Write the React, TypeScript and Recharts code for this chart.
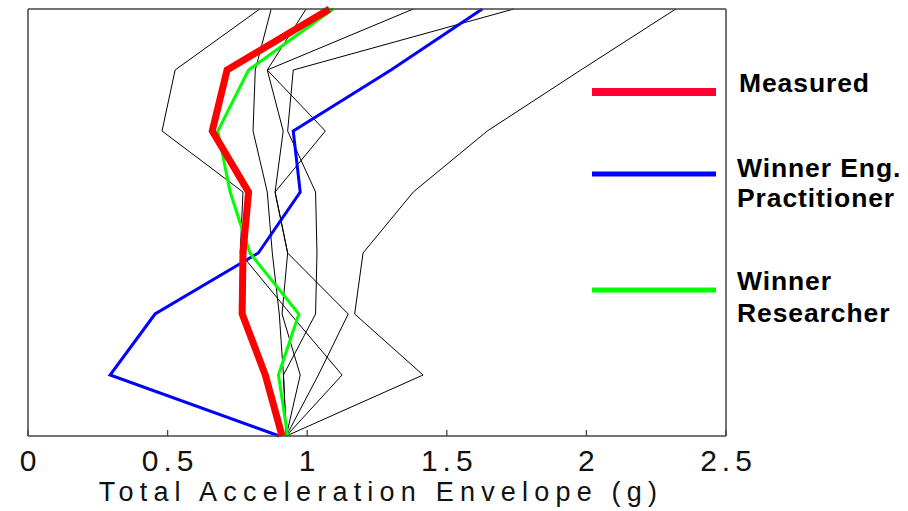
import { LineChart, Line, XAxis, YAxis } from "recharts";

// floor levels, bottom (0) to top (7)
const levels = [0, 1, 2, 3, 4, 5, 6, 7];
const xTicks = [0, 0.5, 1, 1.5, 2, 2.5];

const measured = [0.91, 0.85, 0.767, 0.77, 0.79, 0.66, 0.713, 1.08];
const engPractitioner = [0.9, 0.294, 0.455, 0.825, 0.975, 0.95, 1.3, 1.627];
const researcher = [0.93, 0.897, 0.97, 0.795, 0.724, 0.68, 0.79, 1.093];

// other entries (thin black)
const entryA = [0.925, 1.125, 0.94, 0.76, 0.77, 0.48, 0.527, 0.83];
const entryB = [0.925, 0.915, 0.9, 0.875, 0.857, 0.806, 0.814, 0.871];
const entryC = [0.925, 0.975, 0.91, 0.93, 0.885, 1.065, 0.857, 0.996];
const entryD = [0.925, 1.04, 1.147, 0.93, 0.885, 0.914, 0.857, 1.38];
const entryE = [0.925, 0.915, 1.03, 1.035, 1.03, 0.93, 0.95, 1.74];
const entryF = [0.925, 1.415, 1.17, 1.2, 1.38, 1.645, 1.98, 2.32];

const blacks = { entryA, entryB, entryC, entryD, entryE, entryF };

const data = levels.map((level, i) => {
  const row: Record<string, number> = {
    level,
    measured: measured[i],
    eng: engPractitioner[i],
    res: researcher[i],
  };
  Object.entries(blacks).forEach(([k, arr]) => (row[k] = arr[i]));
  return row;
});

const FRAME = "#444";

const BottomTick = (props: any) => {
  const { x, y, payload } = props;
  return (
    <g>
      <line x1={x} y1={y} x2={x} y2={y - 6} stroke={FRAME} strokeWidth={1.3} />
      <text
        x={x + 2.5}
        y={y + 35}
        textAnchor="middle"
        fontFamily="Liberation Sans, Arial, sans-serif"
        fontSize={30}
        letterSpacing={5}
        fill="#111"
      >
        {payload.value}
      </text>
    </g>
  );
};

const TopTick = (props: any) => {
  const { x, y } = props;
  return <line x1={x} y1={y} x2={x} y2={y + 6} stroke={FRAME} strokeWidth={1.3} />;
};

export default function App() {
  return (
    <div style={{ position: "absolute", left: 0, top: 0, width: 908, height: 511, background: "#fff" }}>
      <LineChart
        width={908}
        height={511}
        data={data}
        layout="vertical"
        margin={{ top: 8, right: 181, left: 27, bottom: 0 }}
      >
        <XAxis
          type="number"
          domain={[0, 2.5]}
          ticks={xTicks}
          height={75}
          tickSize={0}
          tickMargin={0}
          tick={<BottomTick />}
          axisLine={{ stroke: FRAME, strokeWidth: 1.5 }}
          tickLine={false}
          allowDataOverflow
        />
        <XAxis
          xAxisId="top"
          orientation="top"
          type="number"
          domain={[0, 2.5]}
          ticks={xTicks}
          height={1}
          tickSize={0}
          tickMargin={0}
          tick={<TopTick />}
          axisLine={{ stroke: FRAME, strokeWidth: 1.5 }}
          tickLine={false}
        />
        <YAxis
          type="number"
          dataKey="level"
          domain={[0, 7]}
          reversed
          width={1}
          tick={false}
          tickLine={false}
          axisLine={{ stroke: FRAME, strokeWidth: 1.5 }}
        />
        <YAxis
          yAxisId="right"
          orientation="right"
          type="number"
          dataKey="level"
          domain={[0, 7]}
          reversed
          width={1}
          tick={false}
          tickLine={false}
          axisLine={{ stroke: FRAME, strokeWidth: 1.5 }}
        />
        {Object.keys(blacks).map((k) => (
          <Line
            key={k}
            dataKey={k}
            type="linear"
            stroke="#000"
            strokeWidth={1}
            dot={false}
            isAnimationActive={false}
          />
        ))}
        <Line dataKey="eng" type="linear" stroke="#0000ff" strokeWidth={3} dot={false} isAnimationActive={false} />
        <Line dataKey="res" type="linear" stroke="#00ff00" strokeWidth={3} dot={false} isAnimationActive={false} />
        <Line dataKey="measured" type="linear" stroke="#ff0000" strokeWidth={7} dot={false} isAnimationActive={false} />
      </LineChart>
      <svg
        width={908}
        height={511}
        style={{ position: "absolute", left: 0, top: 0, pointerEvents: "none" }}
        fontFamily="Liberation Sans, Arial, sans-serif"
      >
        <line x1={592} y1={92} x2={716} y2={92} stroke="#ff0033" strokeWidth={8} />
        <line x1={592} y1={174} x2={716} y2={174} stroke="#0000ff" strokeWidth={5} />
        <line x1={592} y1={290} x2={716} y2={290} stroke="#00ff00" strokeWidth={5} />
        <g fontSize={26.5} fontWeight="bold" fill="#000" letterSpacing={0.9}>
          <text x={739} y={92}>Measured</text>
          <text x={737} y={177}>Winner Eng.</text>
          <text x={737} y={207}>Practitioner</text>
          <text x={737} y={290}>Winner</text>
          <text x={737} y={322}>Researcher</text>
        </g>
        <text
          x={381}
          y={501}
          textAnchor="middle"
          fontSize={27}
          letterSpacing={6.2}
          fill="#111"
        >
          Total Acceleration Envelope (g)
        </text>
      </svg>
    </div>
  );
}
